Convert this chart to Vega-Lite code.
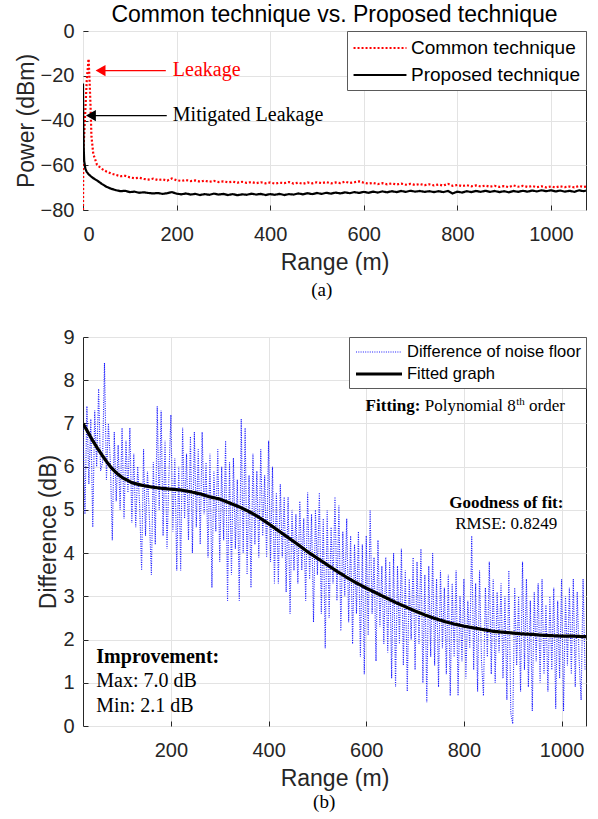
{
 "$schema": "https://vega.github.io/schema/vega-lite/v6.json",
 "background": "white",
 "padding": {"left": 14, "top": 3, "right": 8, "bottom": 5},
 "spacing": 26,
 "resolve": {"scale": {"color": "independent", "strokeDash": "independent", "strokeWidth": "independent"}, "legend": {"color": "independent", "strokeDash": "independent", "strokeWidth": "independent"}},
 "config": {
  "font": "Liberation Sans",
  "view": {"stroke": "#262626", "strokeWidth": 1},
  "axis": {"labelFont": "Liberation Sans", "labelFontSize": 20, "labelColor": "#262626", "titleFont": "Liberation Sans", "titleFontSize": 23, "titleFontWeight": "normal", "titleColor": "#262626", "gridColor": "#e3e3e3", "gridOpacity": 1, "domain": false, "tickColor": "#262626", "tickSize": -5, "format": "d"},
  "axisX": {"labelPadding": 19, "titlePadding": 7},
  "axisY": {"labelPadding": 14, "titlePadding": 2},
  "legend": {"orient": "top-right", "offset": 0, "fillColor": "white", "strokeColor": "#5a5a5a", "padding": 5, "labelFont": "Liberation Sans", "labelColor": "#000000", "symbolType": "M-2.5,0H2.5", "symbolFillColor": "transparent", "labelLimit": 400, "cornerRadius": 0}
 },
 "datasets": {
  "top": [
   {"r":0,"p":-80,"s":"C"},{"r":0.6,"p":-55,"s":"C"},{"r":4,"p":-40,"s":"C"},{"r":8,"p":-22,"s":"C"},{"r":12,"p":-12.5,"s":"C"},{"r":14,"p":-22,"s":"C"},{"r":16,"p":-33,"s":"C"},{"r":18,"p":-47,"s":"C"},{"r":22,"p":-55,"s":"C"},{"r":30,"p":-59.8,"s":"C"},{"r":40,"p":-61.6,"s":"C"},{"r":50,"p":-62.8,"s":"C"},{"r":60,"p":-63.7,"s":"C"},{"r":70,"p":-64.3,"s":"C"},{"r":80,"p":-64.9,"s":"C"},{"r":90,"p":-64.7,"s":"C"},{"r":100,"p":-65.4,"s":"C"},{"r":110,"p":-65.8,"s":"C"},{"r":120,"p":-65.6,"s":"C"},{"r":130,"p":-66.1,"s":"C"},{"r":140,"p":-66.4,"s":"C"},{"r":150,"p":-66.0,"s":"C"},{"r":160,"p":-66.6,"s":"C"},{"r":170,"p":-66.3,"s":"C"},{"r":180,"p":-66.9,"s":"C"},{"r":190,"p":-65.9,"s":"C"},{"r":200,"p":-66.7,"s":"C"},{"r":210,"p":-67.0,"s":"C"},{"r":220,"p":-66.6,"s":"C"},{"r":230,"p":-67.1,"s":"C"},{"r":240,"p":-66.8,"s":"C"},{"r":250,"p":-67.3,"s":"C"},{"r":260,"p":-66.9,"s":"C"},{"r":270,"p":-67.4,"s":"C"},{"r":280,"p":-67.0,"s":"C"},{"r":290,"p":-67.5,"s":"C"},{"r":300,"p":-67.2,"s":"C"},{"r":310,"p":-67.6,"s":"C"},{"r":320,"p":-67.3,"s":"C"},{"r":330,"p":-67.8,"s":"C"},{"r":340,"p":-67.4,"s":"C"},{"r":350,"p":-67.9,"s":"C"},{"r":360,"p":-67.5,"s":"C"},{"r":370,"p":-68.0,"s":"C"},{"r":380,"p":-67.6,"s":"C"},{"r":390,"p":-68.1,"s":"C"},{"r":400,"p":-67.7,"s":"C"},{"r":410,"p":-68.2,"s":"C"},{"r":420,"p":-67.8,"s":"C"},{"r":430,"p":-68.0,"s":"C"},{"r":440,"p":-67.5,"s":"C"},{"r":450,"p":-68.2,"s":"C"},{"r":460,"p":-67.8,"s":"C"},{"r":470,"p":-68.3,"s":"C"},{"r":480,"p":-67.7,"s":"C"},{"r":490,"p":-68.1,"s":"C"},{"r":500,"p":-67.6,"s":"C"},{"r":510,"p":-68.0,"s":"C"},{"r":520,"p":-67.5,"s":"C"},{"r":530,"p":-68.1,"s":"C"},{"r":540,"p":-67.7,"s":"C"},{"r":550,"p":-68.0,"s":"C"},{"r":560,"p":-67.3,"s":"C"},{"r":570,"p":-67.9,"s":"C"},{"r":580,"p":-67.6,"s":"C"},{"r":590,"p":-67.2,"s":"C"},{"r":600,"p":-67.8,"s":"C"},{"r":610,"p":-68.2,"s":"C"},{"r":620,"p":-67.9,"s":"C"},{"r":630,"p":-68.4,"s":"C"},{"r":640,"p":-68.0,"s":"C"},{"r":650,"p":-68.5,"s":"C"},{"r":660,"p":-68.1,"s":"C"},{"r":670,"p":-68.6,"s":"C"},{"r":680,"p":-68.2,"s":"C"},{"r":690,"p":-68.7,"s":"C"},{"r":700,"p":-68.3,"s":"C"},{"r":710,"p":-68.8,"s":"C"},{"r":720,"p":-68.4,"s":"C"},{"r":730,"p":-68.9,"s":"C"},{"r":740,"p":-68.5,"s":"C"},{"r":750,"p":-69.0,"s":"C"},{"r":760,"p":-68.6,"s":"C"},{"r":770,"p":-69.1,"s":"C"},{"r":780,"p":-68.3,"s":"C"},{"r":790,"p":-69.2,"s":"C"},{"r":800,"p":-68.8,"s":"C"},{"r":810,"p":-69.3,"s":"C"},{"r":820,"p":-68.9,"s":"C"},{"r":830,"p":-69.4,"s":"C"},{"r":840,"p":-69.0,"s":"C"},{"r":850,"p":-69.5,"s":"C"},{"r":860,"p":-69.1,"s":"C"},{"r":870,"p":-69.6,"s":"C"},{"r":880,"p":-69.2,"s":"C"},{"r":890,"p":-69.7,"s":"C"},{"r":900,"p":-69.3,"s":"C"},{"r":910,"p":-69.8,"s":"C"},{"r":920,"p":-69.0,"s":"C"},{"r":930,"p":-69.6,"s":"C"},{"r":940,"p":-69.2,"s":"C"},{"r":950,"p":-69.7,"s":"C"},{"r":960,"p":-69.3,"s":"C"},{"r":970,"p":-69.8,"s":"C"},{"r":980,"p":-69.4,"s":"C"},{"r":990,"p":-69.9,"s":"C"},{"r":1000,"p":-69.5,"s":"C"},{"r":1010,"p":-69.9,"s":"C"},{"r":1020,"p":-69.4,"s":"C"},{"r":1030,"p":-69.8,"s":"C"},{"r":1040,"p":-69.5,"s":"C"},{"r":1050,"p":-69.9,"s":"C"},{"r":1060,"p":-69.3,"s":"C"},{"r":1070,"p":-69.7,"s":"C"},{"r":1075,"p":-69.5,"s":"C"},
   {"r":0,"p":-23.5,"s":"P"},{"r":0.5,"p":-40,"s":"P"},{"r":1.5,"p":-52,"s":"P"},{"r":2.5,"p":-58,"s":"P"},{"r":5,"p":-61.5,"s":"P"},{"r":8,"p":-63,"s":"P"},{"r":12,"p":-64,"s":"P"},{"r":16,"p":-64.8,"s":"P"},{"r":22,"p":-65.8,"s":"P"},{"r":30,"p":-66.8,"s":"P"},{"r":40,"p":-68.3,"s":"P"},{"r":50,"p":-69.6,"s":"P"},{"r":60,"p":-70.5,"s":"P"},{"r":70,"p":-71.1,"s":"P"},{"r":80,"p":-71.6,"s":"P"},{"r":90,"p":-71.4,"s":"P"},{"r":100,"p":-72.0,"s":"P"},{"r":110,"p":-71.8,"s":"P"},{"r":120,"p":-72.3,"s":"P"},{"r":130,"p":-72.1,"s":"P"},{"r":140,"p":-72.4,"s":"P"},{"r":150,"p":-72.6,"s":"P"},{"r":160,"p":-72.4,"s":"P"},{"r":170,"p":-72.8,"s":"P"},{"r":180,"p":-72.5,"s":"P"},{"r":190,"p":-72.0,"s":"P"},{"r":200,"p":-72.7,"s":"P"},{"r":210,"p":-73.0,"s":"P"},{"r":220,"p":-72.6,"s":"P"},{"r":230,"p":-73.1,"s":"P"},{"r":240,"p":-72.8,"s":"P"},{"r":250,"p":-73.3,"s":"P"},{"r":260,"p":-72.9,"s":"P"},{"r":270,"p":-73.2,"s":"P"},{"r":280,"p":-72.7,"s":"P"},{"r":290,"p":-73.1,"s":"P"},{"r":300,"p":-72.8,"s":"P"},{"r":310,"p":-73.3,"s":"P"},{"r":320,"p":-72.9,"s":"P"},{"r":330,"p":-73.4,"s":"P"},{"r":340,"p":-73.0,"s":"P"},{"r":350,"p":-73.2,"s":"P"},{"r":360,"p":-72.7,"s":"P"},{"r":370,"p":-73.1,"s":"P"},{"r":380,"p":-72.8,"s":"P"},{"r":390,"p":-73.3,"s":"P"},{"r":400,"p":-72.9,"s":"P"},{"r":410,"p":-73.2,"s":"P"},{"r":420,"p":-72.8,"s":"P"},{"r":430,"p":-73.3,"s":"P"},{"r":440,"p":-72.9,"s":"P"},{"r":450,"p":-73.1,"s":"P"},{"r":460,"p":-72.6,"s":"P"},{"r":470,"p":-73.0,"s":"P"},{"r":480,"p":-72.5,"s":"P"},{"r":490,"p":-72.9,"s":"P"},{"r":500,"p":-72.4,"s":"P"},{"r":510,"p":-72.8,"s":"P"},{"r":520,"p":-72.3,"s":"P"},{"r":530,"p":-72.7,"s":"P"},{"r":540,"p":-72.2,"s":"P"},{"r":550,"p":-72.6,"s":"P"},{"r":560,"p":-72.1,"s":"P"},{"r":570,"p":-72.5,"s":"P"},{"r":580,"p":-72.0,"s":"P"},{"r":590,"p":-72.4,"s":"P"},{"r":600,"p":-71.9,"s":"P"},{"r":610,"p":-72.3,"s":"P"},{"r":620,"p":-71.8,"s":"P"},{"r":630,"p":-72.2,"s":"P"},{"r":640,"p":-71.7,"s":"P"},{"r":650,"p":-72.1,"s":"P"},{"r":660,"p":-71.6,"s":"P"},{"r":670,"p":-72.0,"s":"P"},{"r":680,"p":-71.5,"s":"P"},{"r":690,"p":-71.9,"s":"P"},{"r":700,"p":-71.4,"s":"P"},{"r":710,"p":-71.8,"s":"P"},{"r":720,"p":-71.5,"s":"P"},{"r":730,"p":-71.9,"s":"P"},{"r":740,"p":-71.6,"s":"P"},{"r":750,"p":-72.0,"s":"P"},{"r":760,"p":-71.6,"s":"P"},{"r":770,"p":-72.0,"s":"P"},{"r":780,"p":-71.5,"s":"P"},{"r":790,"p":-72.6,"s":"P"},{"r":800,"p":-71.8,"s":"P"},{"r":810,"p":-72.2,"s":"P"},{"r":820,"p":-71.6,"s":"P"},{"r":830,"p":-72.0,"s":"P"},{"r":840,"p":-71.5,"s":"P"},{"r":850,"p":-71.9,"s":"P"},{"r":860,"p":-71.4,"s":"P"},{"r":870,"p":-71.9,"s":"P"},{"r":880,"p":-71.5,"s":"P"},{"r":890,"p":-72.0,"s":"P"},{"r":900,"p":-71.6,"s":"P"},{"r":910,"p":-72.1,"s":"P"},{"r":920,"p":-71.5,"s":"P"},{"r":930,"p":-71.9,"s":"P"},{"r":940,"p":-71.4,"s":"P"},{"r":950,"p":-71.8,"s":"P"},{"r":960,"p":-71.3,"s":"P"},{"r":970,"p":-71.7,"s":"P"},{"r":980,"p":-71.2,"s":"P"},{"r":990,"p":-71.6,"s":"P"},{"r":1000,"p":-71.2,"s":"P"},{"r":1010,"p":-71.7,"s":"P"},{"r":1020,"p":-71.3,"s":"P"},{"r":1030,"p":-71.8,"s":"P"},{"r":1040,"p":-71.4,"s":"P"},{"r":1050,"p":-71.9,"s":"P"},{"r":1060,"p":-71.2,"s":"P"},{"r":1070,"p":-71.6,"s":"P"},{"r":1075,"p":-71.3,"s":"P"}
  ],
  "bot": [
   {"r":20,"d":6.9,"s":"D"},{"r":24,"d":4.9,"s":"D"},{"r":28,"d":7.4,"s":"D"},{"r":32,"d":5.6,"s":"D"},{"r":36,"d":7.1,"s":"D"},
   {"r":40,"d":4.6,"s":"D"},{"r":44,"d":7.3,"s":"D"},{"r":48,"d":6.0,"s":"D"},{"r":52,"d":7.8,"s":"D"},{"r":56,"d":5.9,"s":"D"},
   {"r":60,"d":6.1,"s":"D"},{"r":64,"d":8.4,"s":"D"},{"r":68,"d":5.7,"s":"D"},{"r":72,"d":7.0,"s":"D"},{"r":76,"d":6.1,"s":"D"},
   {"r":80,"d":4.3,"s":"D"},{"r":84,"d":6.8,"s":"D"},{"r":88,"d":5.2,"s":"D"},{"r":92,"d":6.5,"s":"D"},{"r":96,"d":5.0,"s":"D"},
   {"r":100,"d":6.9,"s":"D"},{"r":104,"d":4.8,"s":"D"},{"r":108,"d":6.6,"s":"D"},{"r":112,"d":5.4,"s":"D"},{"r":116,"d":6.9,"s":"D"},
   {"r":120,"d":4.7,"s":"D"},{"r":124,"d":6.3,"s":"D"},{"r":128,"d":4.6,"s":"D"},{"r":132,"d":6.0,"s":"D"},{"r":136,"d":5.1,"s":"D"},
   {"r":140,"d":3.6,"s":"D"},{"r":144,"d":6.4,"s":"D"},{"r":148,"d":4.4,"s":"D"},{"r":152,"d":5.9,"s":"D"},{"r":156,"d":4.8,"s":"D"},
   {"r":160,"d":3.5,"s":"D"},{"r":164,"d":6.1,"s":"D"},{"r":168,"d":4.2,"s":"D"},{"r":172,"d":7.4,"s":"D"},{"r":176,"d":5.0,"s":"D"},
   {"r":180,"d":7.3,"s":"D"},{"r":184,"d":4.4,"s":"D"},{"r":188,"d":6.6,"s":"D"},{"r":192,"d":4.1,"s":"D"},{"r":196,"d":5.8,"s":"D"},
   {"r":200,"d":7.2,"s":"D"},{"r":204,"d":4.5,"s":"D"},{"r":208,"d":6.2,"s":"D"},{"r":212,"d":3.6,"s":"D"},{"r":216,"d":6.0,"s":"D"},
   {"r":220,"d":3.6,"s":"D"},{"r":224,"d":6.9,"s":"D"},{"r":228,"d":4.8,"s":"D"},{"r":232,"d":6.3,"s":"D"},{"r":236,"d":4.3,"s":"D"},
   {"r":240,"d":6.7,"s":"D"},{"r":244,"d":4.0,"s":"D"},{"r":248,"d":6.8,"s":"D"},{"r":252,"d":4.6,"s":"D"},{"r":256,"d":6.4,"s":"D"},
   {"r":260,"d":4.2,"s":"D"},{"r":264,"d":6.8,"s":"D"},{"r":268,"d":4.9,"s":"D"},{"r":272,"d":6.1,"s":"D"},{"r":276,"d":3.9,"s":"D"},
   {"r":280,"d":6.3,"s":"D"},{"r":284,"d":3.2,"s":"D"},{"r":288,"d":5.9,"s":"D"},{"r":292,"d":4.5,"s":"D"},{"r":296,"d":6.4,"s":"D"},
   {"r":300,"d":3.8,"s":"D"},{"r":304,"d":6.0,"s":"D"},{"r":308,"d":4.3,"s":"D"},{"r":312,"d":6.6,"s":"D"},{"r":316,"d":2.9,"s":"D"},
   {"r":320,"d":6.1,"s":"D"},{"r":324,"d":3.5,"s":"D"},{"r":328,"d":6.2,"s":"D"},{"r":332,"d":4.1,"s":"D"},{"r":336,"d":5.7,"s":"D"},
   {"r":340,"d":2.9,"s":"D"},{"r":344,"d":7.1,"s":"D"},{"r":348,"d":4.0,"s":"D"},{"r":352,"d":6.9,"s":"D"},{"r":356,"d":3.5,"s":"D"},
   {"r":360,"d":5.8,"s":"D"},{"r":364,"d":3.2,"s":"D"},{"r":368,"d":6.3,"s":"D"},{"r":372,"d":4.2,"s":"D"},{"r":376,"d":5.9,"s":"D"},
   {"r":380,"d":3.9,"s":"D"},{"r":384,"d":6.4,"s":"D"},{"r":388,"d":4.4,"s":"D"},{"r":392,"d":5.8,"s":"D"},{"r":396,"d":3.9,"s":"D"},
   {"r":400,"d":6.6,"s":"D"},{"r":404,"d":3.8,"s":"D"},{"r":408,"d":6.0,"s":"D"},{"r":412,"d":3.3,"s":"D"},{"r":416,"d":5.4,"s":"D"},
   {"r":420,"d":3.3,"s":"D"},{"r":424,"d":5.6,"s":"D"},{"r":428,"d":3.9,"s":"D"},{"r":432,"d":5.3,"s":"D"},{"r":436,"d":3.1,"s":"D"},
   {"r":440,"d":5.3,"s":"D"},{"r":444,"d":2.6,"s":"D"},{"r":448,"d":5.0,"s":"D"},{"r":452,"d":3.6,"s":"D"},{"r":456,"d":4.9,"s":"D"},
   {"r":460,"d":3.3,"s":"D"},{"r":464,"d":5.2,"s":"D"},{"r":468,"d":3.6,"s":"D"},{"r":472,"d":4.8,"s":"D"},{"r":476,"d":2.9,"s":"D"},
   {"r":480,"d":5.4,"s":"D"},{"r":484,"d":3.4,"s":"D"},{"r":488,"d":4.9,"s":"D"},{"r":492,"d":2.4,"s":"D"},{"r":496,"d":5.0,"s":"D"},
   {"r":500,"d":3.5,"s":"D"},{"r":504,"d":5.4,"s":"D"},{"r":508,"d":2.6,"s":"D"},{"r":512,"d":4.8,"s":"D"},{"r":516,"d":1.8,"s":"D"},
   {"r":520,"d":5.0,"s":"D"},{"r":524,"d":2.5,"s":"D"},{"r":528,"d":4.6,"s":"D"},{"r":532,"d":3.3,"s":"D"},{"r":536,"d":5.3,"s":"D"},
   {"r":540,"d":2.9,"s":"D"},{"r":544,"d":5.1,"s":"D"},{"r":548,"d":2.2,"s":"D"},{"r":552,"d":4.5,"s":"D"},{"r":556,"d":3.0,"s":"D"},
   {"r":560,"d":4.8,"s":"D"},{"r":564,"d":2.4,"s":"D"},{"r":568,"d":4.4,"s":"D"},{"r":572,"d":1.9,"s":"D"},{"r":576,"d":4.2,"s":"D"},
   {"r":580,"d":2.6,"s":"D"},{"r":584,"d":4.5,"s":"D"},{"r":588,"d":1.6,"s":"D"},{"r":592,"d":4.2,"s":"D"},{"r":596,"d":1.2,"s":"D"},
   {"r":600,"d":4.4,"s":"D"},{"r":604,"d":2.1,"s":"D"},{"r":608,"d":5.0,"s":"D"},{"r":612,"d":2.6,"s":"D"},{"r":616,"d":3.9,"s":"D"},
   {"r":620,"d":1.5,"s":"D"},{"r":624,"d":4.3,"s":"D"},{"r":628,"d":2.3,"s":"D"},{"r":632,"d":3.7,"s":"D"},{"r":636,"d":1.9,"s":"D"},
   {"r":640,"d":3.9,"s":"D"},{"r":644,"d":1.7,"s":"D"},{"r":648,"d":3.8,"s":"D"},{"r":652,"d":1.1,"s":"D"},{"r":656,"d":4.0,"s":"D"},
   {"r":660,"d":0.9,"s":"D"},{"r":664,"d":3.7,"s":"D"},{"r":668,"d":1.9,"s":"D"},{"r":672,"d":4.1,"s":"D"},{"r":676,"d":1.4,"s":"D"},
   {"r":680,"d":3.6,"s":"D"},{"r":684,"d":0.8,"s":"D"},{"r":688,"d":3.4,"s":"D"},{"r":692,"d":2.0,"s":"D"},{"r":696,"d":3.9,"s":"D"},
   {"r":700,"d":1.3,"s":"D"},{"r":704,"d":3.8,"s":"D"},{"r":708,"d":1.9,"s":"D"},{"r":712,"d":4.1,"s":"D"},{"r":716,"d":1.0,"s":"D"},
   {"r":720,"d":3.5,"s":"D"},{"r":724,"d":0.55,"s":"D"},{"r":728,"d":3.7,"s":"D"},{"r":732,"d":1.6,"s":"D"},{"r":736,"d":4.0,"s":"D"},
   {"r":740,"d":1.4,"s":"D"},{"r":744,"d":3.4,"s":"D"},{"r":748,"d":0.9,"s":"D"},{"r":752,"d":3.6,"s":"D"},{"r":756,"d":1.8,"s":"D"},
   {"r":760,"d":3.2,"s":"D"},{"r":764,"d":1.2,"s":"D"},{"r":768,"d":3.5,"s":"D"},{"r":772,"d":0.7,"s":"D"},{"r":776,"d":3.3,"s":"D"},
   {"r":780,"d":1.6,"s":"D"},{"r":784,"d":3.6,"s":"D"},{"r":788,"d":0.7,"s":"D"},{"r":792,"d":3.0,"s":"D"},{"r":796,"d":1.5,"s":"D"},
   {"r":800,"d":3.4,"s":"D"},{"r":804,"d":1.1,"s":"D"},{"r":808,"d":2.9,"s":"D"},{"r":812,"d":1.8,"s":"D"},{"r":816,"d":4.4,"s":"D"},
   {"r":820,"d":1.3,"s":"D"},{"r":824,"d":3.3,"s":"D"},{"r":828,"d":0.8,"s":"D"},{"r":832,"d":3.6,"s":"D"},{"r":836,"d":1.5,"s":"D"},
   {"r":840,"d":0.7,"s":"D"},{"r":844,"d":3.2,"s":"D"},{"r":848,"d":1.6,"s":"D"},{"r":852,"d":3.8,"s":"D"},{"r":856,"d":1.2,"s":"D"},
   {"r":860,"d":3.4,"s":"D"},{"r":864,"d":1.0,"s":"D"},{"r":868,"d":3.1,"s":"D"},{"r":872,"d":1.7,"s":"D"},{"r":876,"d":3.3,"s":"D"},
   {"r":880,"d":1.1,"s":"D"},{"r":884,"d":3.0,"s":"D"},{"r":888,"d":0.6,"s":"D"},{"r":892,"d":3.6,"s":"D"},{"r":896,"d":0.3,"s":"D"},
   {"r":900,"d":0.05,"s":"D"},{"r":904,"d":3.2,"s":"D"},{"r":908,"d":1.4,"s":"D"},{"r":912,"d":3.0,"s":"D"},{"r":916,"d":0.8,"s":"D"},
   {"r":920,"d":3.8,"s":"D"},{"r":924,"d":1.3,"s":"D"},{"r":928,"d":3.4,"s":"D"},{"r":932,"d":0.9,"s":"D"},{"r":936,"d":2.9,"s":"D"},
   {"r":940,"d":0.35,"s":"D"},{"r":944,"d":3.1,"s":"D"},{"r":948,"d":1.5,"s":"D"},{"r":952,"d":3.3,"s":"D"},{"r":956,"d":1.0,"s":"D"},
   {"r":960,"d":3.4,"s":"D"},{"r":964,"d":1.2,"s":"D"},{"r":968,"d":2.8,"s":"D"},{"r":972,"d":0.8,"s":"D"},{"r":976,"d":3.0,"s":"D"},
   {"r":980,"d":1.3,"s":"D"},{"r":984,"d":3.2,"s":"D"},{"r":988,"d":0.4,"s":"D"},{"r":992,"d":2.9,"s":"D"},{"r":996,"d":1.1,"s":"D"},
   {"r":1000,"d":3.4,"s":"D"},{"r":1004,"d":0.35,"s":"D"},{"r":1008,"d":3.0,"s":"D"},{"r":1012,"d":1.4,"s":"D"},{"r":1016,"d":3.2,"s":"D"},
   {"r":1020,"d":1.2,"s":"D"},{"r":1024,"d":3.4,"s":"D"},{"r":1028,"d":0.9,"s":"D"},{"r":1032,"d":3.1,"s":"D"},{"r":1036,"d":1.5,"s":"D"},
   {"r":1040,"d":0.6,"s":"D"},{"r":1044,"d":3.4,"s":"D"},{"r":1048,"d":1.3,"s":"D"},
   {"r":20,"d":7.0,"s":"F"},{"r":30,"d":6.8,"s":"F"},{"r":40,"d":6.6,"s":"F"},{"r":50,"d":6.42,"s":"F"},{"r":60,"d":6.25,"s":"F"},{"r":70,"d":6.09,"s":"F"},{"r":80,"d":5.95,"s":"F"},{"r":90,"d":5.84,"s":"F"},{"r":100,"d":5.75,"s":"F"},{"r":120,"d":5.63,"s":"F"},{"r":140,"d":5.57,"s":"F"},{"r":160,"d":5.53,"s":"F"},{"r":180,"d":5.5,"s":"F"},{"r":200,"d":5.48,"s":"F"},{"r":220,"d":5.46,"s":"F"},{"r":240,"d":5.42,"s":"F"},{"r":260,"d":5.37,"s":"F"},{"r":280,"d":5.3,"s":"F"},{"r":300,"d":5.25,"s":"F"},{"r":320,"d":5.16,"s":"F"},{"r":340,"d":5.07,"s":"F"},{"r":360,"d":4.96,"s":"F"},{"r":380,"d":4.83,"s":"F"},{"r":400,"d":4.68,"s":"F"},{"r":420,"d":4.52,"s":"F"},{"r":440,"d":4.36,"s":"F"},{"r":460,"d":4.2,"s":"F"},{"r":480,"d":4.03,"s":"F"},{"r":500,"d":3.88,"s":"F"},{"r":520,"d":3.73,"s":"F"},{"r":540,"d":3.58,"s":"F"},{"r":560,"d":3.44,"s":"F"},{"r":580,"d":3.31,"s":"F"},{"r":600,"d":3.19,"s":"F"},{"r":620,"d":3.08,"s":"F"},{"r":640,"d":2.97,"s":"F"},{"r":660,"d":2.86,"s":"F"},{"r":680,"d":2.76,"s":"F"},{"r":700,"d":2.66,"s":"F"},{"r":720,"d":2.57,"s":"F"},{"r":740,"d":2.49,"s":"F"},{"r":760,"d":2.42,"s":"F"},{"r":780,"d":2.36,"s":"F"},{"r":800,"d":2.31,"s":"F"},{"r":820,"d":2.27,"s":"F"},{"r":840,"d":2.23,"s":"F"},{"r":860,"d":2.19,"s":"F"},{"r":880,"d":2.17,"s":"F"},{"r":900,"d":2.15,"s":"F"},{"r":920,"d":2.13,"s":"F"},{"r":940,"d":2.12,"s":"F"},{"r":960,"d":2.1,"s":"F"},{"r":980,"d":2.09,"s":"F"},{"r":1000,"d":2.08,"s":"F"},{"r":1020,"d":2.08,"s":"F"},{"r":1040,"d":2.07,"s":"F"},{"r":1050,"d":2.07,"s":"F"}
  ]
 },
 "vconcat": [
  {
   "title": {"text": "(a)", "orient": "bottom", "font": "Liberation Serif", "fontSize": 19, "fontWeight": "normal", "color": "#000000", "anchor": "middle", "frame": "bounds", "offset": 6, "dx": 21},
   "resolve": {"legend": {"color": "independent", "strokeDash": "independent"}},
   "vconcat": [
    {
     "width": 503,
     "height": 179,
     "title": {"text": "Common technique vs. Proposed technique", "font": "Liberation Sans", "fontSize": 23, "fontWeight": "normal", "color": "#000000", "offset": -6},
     "layer": [
      {
       "data": {"name": "top"},
       "mark": {"type": "line", "clip": true, "strokeWidth": 2.2},
       "encoding": {
        "x": {"field": "r", "type": "quantitative", "scale": {"domain": [0, 1075], "nice": false, "zero": false}, "axis": {"values": [0, 200, 400, 600, 800, 1000], "title": "Range (m)"}},
        "y": {"field": "p", "type": "quantitative", "scale": {"domain": [-80, 0], "nice": false}, "axis": {"values": [-80, -60, -40, -20, 0], "title": "Power (dBm)"}},
        "color": {"field": "s", "type": "nominal", "scale": {"domain": ["C", "P"], "range": ["#ff0000", "#000000"]}, "legend": {"title": null, "labelFontSize": 19, "symbolSize": 448, "symbolStrokeWidth": 2.2, "symbolOffset": 16, "labelOffset": 19, "rowPadding": 5, "labelExpr": "datum.label == 'C' ? 'Common technique' : 'Proposed technique'"}},
        "strokeDash": {"field": "s", "type": "nominal", "scale": {"domain": ["C", "P"], "range": [[2, 2], [1, 0]]}, "legend": {"title": null, "labelFontSize": 19, "symbolSize": 448, "symbolStrokeWidth": 2.2, "symbolOffset": 16, "labelOffset": 19, "rowPadding": 5, "labelExpr": "datum.label == 'C' ? 'Common technique' : 'Proposed technique'"}}
       }
      },
      {
       "data": {"values": [{"r": 38, "r2": 177, "p": -17.7}]},
       "mark": {"type": "rule", "color": "#ff0000", "strokeWidth": 1.2},
       "encoding": {"x": {"field": "r", "type": "quantitative"}, "x2": {"field": "r2"}, "y": {"field": "p", "type": "quantitative"}}
      },
      {
       "data": {"values": [{"r": 37.5, "p": -17.7}]},
       "mark": {"type": "point", "shape": "triangle-left", "size": 130, "filled": true, "color": "#ff0000", "opacity": 1},
       "encoding": {"x": {"field": "r", "type": "quantitative"}, "y": {"field": "p", "type": "quantitative"}}
      },
      {
       "data": {"values": [{"r": 18, "r2": 179, "p": -37.8}]},
       "mark": {"type": "rule", "color": "#000000", "strokeWidth": 1.2},
       "encoding": {"x": {"field": "r", "type": "quantitative"}, "x2": {"field": "r2"}, "y": {"field": "p", "type": "quantitative"}}
      },
      {
       "data": {"values": [{"r": 17, "p": -37.8}]},
       "mark": {"type": "point", "shape": "triangle-left", "size": 130, "filled": true, "color": "#000000", "opacity": 1},
       "encoding": {"x": {"field": "r", "type": "quantitative"}, "y": {"field": "p", "type": "quantitative"}}
      },
      {
       "data": {"values": [{"r": 192, "p": -20.2, "t": "Leakage"}]},
       "mark": {"type": "text", "font": "Liberation Serif", "fontSize": 20, "align": "left", "baseline": "alphabetic", "color": "#ff0000"},
       "encoding": {"x": {"field": "r", "type": "quantitative"}, "y": {"field": "p", "type": "quantitative"}, "text": {"field": "t"}}
      },
      {
       "data": {"values": [{"r": 192, "p": -40.2, "t": "Mitigated Leakage"}]},
       "mark": {"type": "text", "font": "Liberation Serif", "fontSize": 20, "align": "left", "baseline": "alphabetic", "color": "#000000"},
       "encoding": {"x": {"field": "r", "type": "quantitative"}, "y": {"field": "p", "type": "quantitative"}, "text": {"field": "t"}}
      }
     ]
    }
   ]
  },
  {
   "title": {"text": "(b)", "orient": "bottom", "font": "Liberation Serif", "fontSize": 19, "fontWeight": "normal", "color": "#000000", "anchor": "middle", "frame": "bounds", "offset": 2, "dx": 12},
   "resolve": {"legend": {"color": "independent", "strokeDash": "independent", "strokeWidth": "independent"}},
   "vconcat": [
    {
     "width": 503,
     "height": 389,
     "layer": [
      {
       "data": {"name": "bot"},
       "mark": {"type": "line", "clip": true},
       "encoding": {
        "x": {"field": "r", "type": "quantitative", "scale": {"domain": [20, 1050], "nice": false, "zero": false}, "axis": {"values": [200, 400, 600, 800, 1000], "title": "Range (m)"}},
        "y": {"field": "d", "type": "quantitative", "scale": {"domain": [0, 9], "nice": false}, "axis": {"values": [0, 1, 2, 3, 4, 5, 6, 7, 8, 9], "title": "Difference (dB)"}},
        "color": {"field": "s", "type": "nominal", "scale": {"domain": ["D", "F"], "range": ["#1a1aff", "#000000"]}, "legend": {"title": null, "labelFontSize": 16.5, "symbolSize": 339, "symbolOffset": 14, "labelOffset": 17, "rowPadding": 2, "labelExpr": "datum.label == 'D' ? 'Difference of noise floor' : 'Fitted graph'"}},
        "strokeDash": {"field": "s", "type": "nominal", "scale": {"domain": ["D", "F"], "range": [[1, 1.3], [1, 0]]}, "legend": {"title": null, "labelFontSize": 16.5, "symbolSize": 339, "symbolOffset": 14, "labelOffset": 17, "rowPadding": 2, "labelExpr": "datum.label == 'D' ? 'Difference of noise floor' : 'Fitted graph'"}},
        "strokeWidth": {"field": "s", "type": "nominal", "scale": {"domain": ["D", "F"], "range": [1.1, 3.2]}, "legend": {"title": null, "labelFontSize": 16.5, "symbolSize": 339, "symbolOffset": 14, "labelOffset": 17, "rowPadding": 2, "labelExpr": "datum.label == 'D' ? 'Difference of noise floor' : 'Fitted graph'"}}
       }
      },
      {
       "data": {"values": [{"r": 598.7, "d": 7.285, "t": "Fitting:"}]},
       "mark": {"type": "text", "font": "Liberation Serif", "fontSize": 17, "fontWeight": "bold", "align": "left", "baseline": "alphabetic", "color": "#000000"},
       "encoding": {"x": {"field": "r", "type": "quantitative"}, "y": {"field": "d", "type": "quantitative"}, "text": {"field": "t"}}
      },
      {
       "data": {"values": [{"r": 47.3, "d": 1.451, "t": "Improvement:"}]},
       "mark": {"type": "text", "font": "Liberation Serif", "fontSize": 20, "fontWeight": "bold", "align": "left", "baseline": "alphabetic", "color": "#000000"},
       "encoding": {"x": {"field": "r", "type": "quantitative"}, "y": {"field": "d", "type": "quantitative"}, "text": {"field": "t"}}
      },
      {
       "data": {"values": [{"r": 719.7, "d": 7.285, "t": "Polynomial 8"}, {"r": 933.5, "d": 7.285, "t": "order"}]},
       "mark": {"type": "text", "font": "Liberation Serif", "fontSize": 17, "align": "left", "baseline": "alphabetic", "color": "#000000"},
       "encoding": {"x": {"field": "r", "type": "quantitative"}, "y": {"field": "d", "type": "quantitative"}, "text": {"field": "t"}}
      },
      {
       "data": {"values": [{"r": 907.3, "d": 7.43, "t": "th"}]},
       "mark": {"type": "text", "font": "Liberation Serif", "fontSize": 11, "align": "left", "baseline": "alphabetic", "color": "#000000"},
       "encoding": {"x": {"field": "r", "type": "quantitative"}, "y": {"field": "d", "type": "quantitative"}, "text": {"field": "t"}}
      },
      {
       "data": {"values": [{"r": 886.8, "d": 5.04, "t": "Goodness of fit:"}]},
       "mark": {"type": "text", "font": "Liberation Serif", "fontSize": 17, "fontWeight": "bold", "align": "center", "baseline": "alphabetic", "color": "#000000"},
       "encoding": {"x": {"field": "r", "type": "quantitative"}, "y": {"field": "d", "type": "quantitative"}, "text": {"field": "t"}}
      },
      {
       "data": {"values": [{"r": 886.8, "d": 4.56, "t": "RMSE: 0.8249"}]},
       "mark": {"type": "text", "font": "Liberation Serif", "fontSize": 17, "align": "center", "baseline": "alphabetic", "color": "#000000"},
       "encoding": {"x": {"field": "r", "type": "quantitative"}, "y": {"field": "d", "type": "quantitative"}, "text": {"field": "t"}}
      },
      {
       "data": {"values": [{"r": 47.3, "d": 0.896, "t": "Max: 7.0 dB"}, {"r": 47.3, "d": 0.333, "t": "Min: 2.1 dB"}]},
       "mark": {"type": "text", "font": "Liberation Serif", "fontSize": 20, "align": "left", "baseline": "alphabetic", "color": "#000000"},
       "encoding": {"x": {"field": "r", "type": "quantitative"}, "y": {"field": "d", "type": "quantitative"}, "text": {"field": "t"}}
      }
     ]
    }
   ]
  }
 ]
}
